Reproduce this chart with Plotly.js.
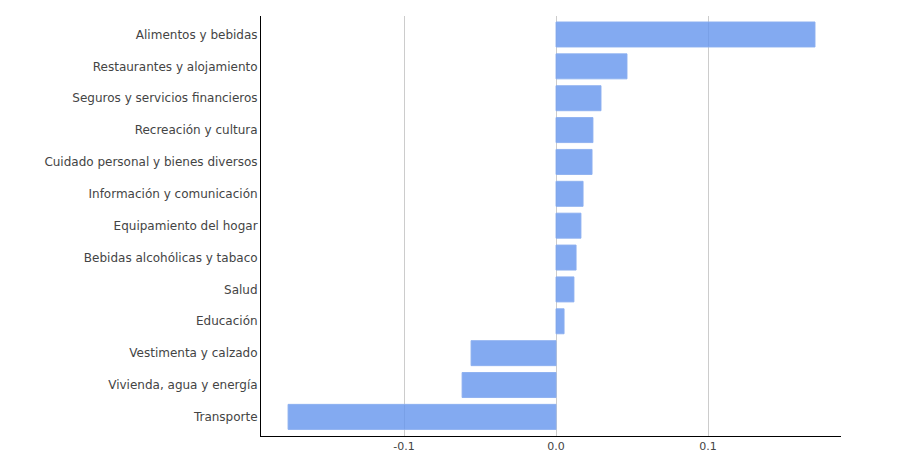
<!DOCTYPE html>
<html>
<head>
<meta charset="utf-8">
<script src="https://cdn.plot.ly/plotly-3.0.1.min.js"></script>
<style>
  html, body { margin: 0; padding: 0; background: #fff; }
  #chart { width: 899px; height: 464px; }
</style>
</head>
<body>
<div id="chart"></div>
<script>
// categories top to bottom, as in the picture
var categories = [
  "Alimentos y bebidas",
  "Restaurantes y alojamiento",
  "Seguros y servicios financieros",
  "Recreación y cultura",
  "Cuidado personal y bienes diversos",
  "Información y comunicación",
  "Equipamiento del hogar",
  "Bebidas alcohólicas y tabaco",
  "Salud",
  "Educación",
  "Vestimenta y calzado",
  "Vivienda, agua y energía",
  "Transporte"
];
var values = [
  0.1704, 0.0467, 0.0296, 0.0243, 0.0237, 0.0178, 0.0164,
  0.0132, 0.0118, 0.0053, -0.0559, -0.0618, -0.1763
];
var tickVals = [-0.1, 0.0, 0.1];
var tickText = ["-0.1", "0.0", "0.1"];

var trace = {
  type: 'bar',
  orientation: 'h',
  x: values,
  y: categories,
  marker: {
    color: 'rgba(100, 149, 237, 0.8)',
    line: { color: 'rgba(140, 175, 240, 0.9)', width: 1 }
  },
  hoverinfo: 'x+y',
  showlegend: false
};

var layout = {
  width: 899,
  height: 464,
  margin: { l: 261, r: 58, t: 16, b: 28 },
  paper_bgcolor: '#fff',
  plot_bgcolor: '#fff',
  bargap: 0.215,
  font: { family: 'DejaVu Sans, Verdana, sans-serif', size: 12, color: '#444' },
  xaxis: {
    range: [-0.1941, 0.1875],
    tickvals: tickVals,
    ticktext: tickText,
    tickfont: { size: 11 },
    showgrid: true,
    gridcolor: '#cccccc',
    zeroline: true,
    zerolinecolor: '#cccccc',
    zerolinewidth: 1,
    showline: true,
    linecolor: '#000',
    linewidth: 1
  },
  yaxis: {
    range: [12.6, -0.58],
    showgrid: false,
    showline: true,
    linecolor: '#000',
    linewidth: 1,
    ticks: '',
    ticklen: 0
  }
};

Plotly.newPlot('chart', [trace], layout, { displayModeBar: false, staticPlot: true });
</script>
</body>
</html>
